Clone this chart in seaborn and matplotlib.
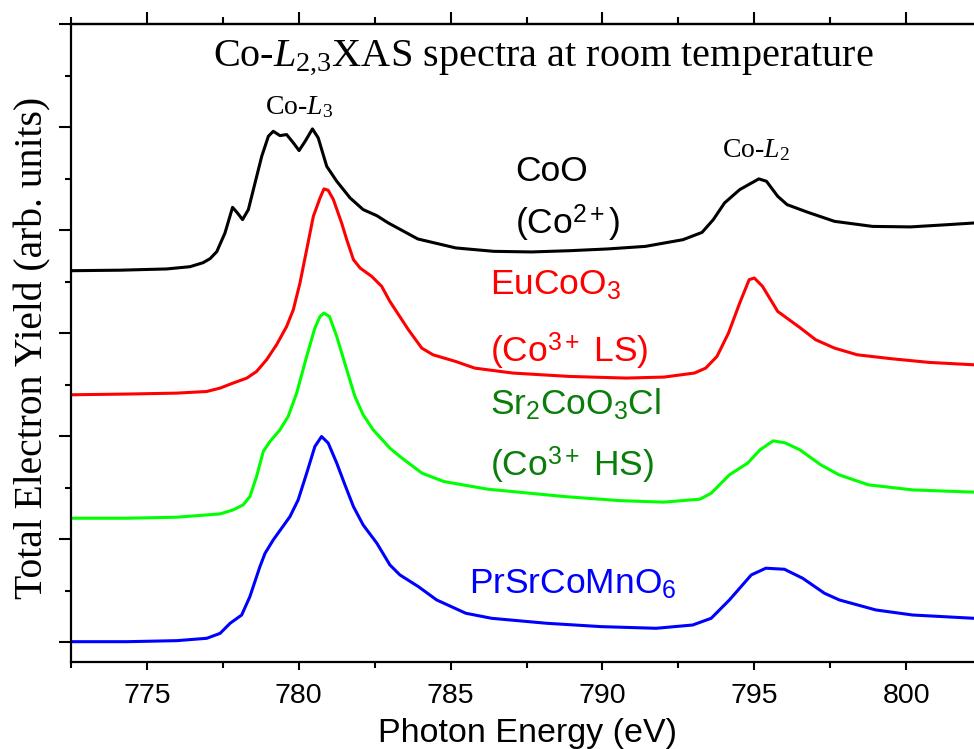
import matplotlib
matplotlib.use("Agg")
import matplotlib.pyplot as plt
from matplotlib.ticker import MultipleLocator, NullFormatter
import seaborn as sns
import pandas as pd

# ---------------- data ----------------
coo_energy = [772.50, 774.11, 775.65, 776.42, 776.85, 777.08, 777.30, 777.57, 777.82, 777.97,
              778.15, 778.34, 778.56, 778.78, 779.00, 779.16, 779.38, 779.60, 779.82, 780.01,
              780.21, 780.45, 780.64, 780.92, 781.25, 781.69, 782.12, 782.57, 782.95, 783.92,
              785.17, 786.42, 787.66, 788.91, 790.16, 791.41, 792.65, 793.28, 793.65, 794.02,
              794.52, 795.15, 795.40, 795.77, 796.08, 796.77, 797.64, 798.89, 800.14, 801.38,
              802.23]
coo_intensity = [3.606, 3.611, 3.623, 3.645, 3.684, 3.723, 3.791, 3.972, 4.221, 4.170,
                 4.102, 4.199, 4.458, 4.716, 4.911, 4.959, 4.917, 4.927, 4.847, 4.772,
                 4.862, 4.982, 4.895, 4.619, 4.474, 4.312, 4.199, 4.140, 4.069, 3.914,
                 3.827, 3.794, 3.788, 3.800, 3.817, 3.842, 3.907, 3.978, 4.102, 4.264,
                 4.393, 4.497, 4.474, 4.328, 4.247, 4.172, 4.085, 4.036, 4.031, 4.053,
                 4.069]

eucoo3_energy = [772.52, 774.33, 775.98, 776.97, 777.41, 777.84, 778.29, 778.61, 778.94, 779.27,
                 779.60, 779.82, 780.04, 780.26, 780.48, 780.70, 780.83, 780.97, 781.14, 781.41,
                 781.58, 781.80, 782.02, 782.40, 782.73, 783.00, 783.18, 783.61, 784.05, 784.42,
                 785.17, 785.79, 787.04, 788.91, 790.78, 792.03, 793.03, 793.40, 793.77, 794.15,
                 794.52, 794.83, 795.00, 795.27, 795.77, 796.52, 797.02, 797.64, 798.39, 799.51,
                 800.76, 802.23]
eucoo3_intensity = [2.402, 2.409, 2.418, 2.434, 2.467, 2.516, 2.564, 2.628, 2.742, 2.888,
                    3.065, 3.227, 3.487, 3.810, 4.134, 4.312, 4.400, 4.386, 4.296, 4.070,
                    3.907, 3.713, 3.632, 3.551, 3.454, 3.308, 3.227, 3.033, 2.855, 2.790,
                    2.725, 2.661, 2.613, 2.580, 2.564, 2.574, 2.613, 2.661, 2.774, 3.001,
                    3.293, 3.519, 3.535, 3.454, 3.211, 3.050, 2.936, 2.855, 2.790, 2.752,
                    2.716, 2.693]

sr2_energy = [772.52, 774.33, 775.98, 777.41, 777.84, 778.17, 778.39, 778.61, 778.83, 779.05,
              779.38, 779.65, 779.93, 780.26, 780.53, 780.70, 780.83, 781.01, 781.25, 781.58,
              781.85, 782.12, 782.45, 783.00, 783.33, 784.06, 784.78, 786.22, 788.76, 790.56,
              792.01, 793.21, 793.58, 794.18, 794.78, 795.19, 795.62, 796.01, 796.50, 797.19,
              797.79, 798.76, 800.21, 802.23]
sr2_intensity = [1.204, 1.204, 1.214, 1.246, 1.285, 1.334, 1.414, 1.608, 1.851, 1.948,
                 2.062, 2.191, 2.418, 2.774, 3.050, 3.162, 3.195, 3.162, 2.968, 2.645,
                 2.385, 2.208, 2.062, 1.884, 1.803, 1.641, 1.560, 1.486, 1.414, 1.375,
                 1.360, 1.389, 1.447, 1.625, 1.739, 1.868, 1.955, 1.936, 1.868, 1.722,
                 1.625, 1.528, 1.479, 1.457]

prsr_energy = [772.52, 774.33, 775.98, 776.97, 777.41, 777.74, 778.12, 778.39, 778.72, 778.89,
               779.16, 779.71, 779.98, 780.26, 780.53, 780.75, 780.97, 781.25, 781.52, 781.80,
               782.12, 782.57, 783.00, 783.33, 783.94, 784.54, 785.50, 786.35, 788.15, 789.96,
               791.77, 792.97, 793.58, 794.18, 794.90, 795.38, 795.99, 796.59, 797.31, 797.80,
               799.00, 800.21, 802.23]
prsr_intensity = [0.006, 0.006, 0.016, 0.039, 0.087, 0.185, 0.265, 0.443, 0.734, 0.864,
                  0.994, 1.220, 1.382, 1.641, 1.900, 1.997, 1.933, 1.739, 1.528, 1.317,
                  1.139, 0.962, 0.751, 0.654, 0.540, 0.411, 0.282, 0.233, 0.185, 0.152,
                  0.136, 0.168, 0.233, 0.411, 0.654, 0.719, 0.709, 0.622, 0.476, 0.411,
                  0.314, 0.265, 0.233]

samples = ["CoO", "EuCoO3", "Sr2CoO3Cl", "PrSrCoMnO6"]
colors = ["#000000", "#ff0000", "#00ff00", "#0000ff"]
label_colors = ["#000000", "#ff0000", "#0a7d0a", "#0000ff"]

x_major_ticks = [775, 780, 785, 790, 795, 800]
x_tick_labels = ["775", "780", "785", "790", "795", "800"]

# ---------------- style ----------------
sns.set_style("ticks")
plt.rcParams["font.family"] = ["Liberation Sans", "DejaVu Sans"]
plt.rcParams["text.color"] = "black"
plt.rcParams["axes.labelcolor"] = "black"
plt.rcParams["xtick.color"] = "black"
plt.rcParams["ytick.color"] = "black"
plt.rcParams["axes.edgecolor"] = "black"
plt.rcParams["mathtext.fontset"] = "custom"
plt.rcParams["mathtext.rm"] = "Liberation Sans"
plt.rcParams["mathtext.it"] = "Liberation Serif:italic"
plt.rcParams["mathtext.bf"] = "Liberation Serif"
plt.rcParams["mathtext.sf"] = "Liberation Sans"

frames = []
for name, e, i in [("CoO", coo_energy, coo_intensity),
                   ("EuCoO3", eucoo3_energy, eucoo3_intensity),
                   ("Sr2CoO3Cl", sr2_energy, sr2_intensity),
                   ("PrSrCoMnO6", prsr_energy, prsr_intensity)]:
    frames.append(pd.DataFrame({"energy": e, "intensity": i, "sample": name}))
df = pd.concat(frames, ignore_index=True)

fig = plt.figure(figsize=(9.74, 7.49), dpi=100)
ax = fig.add_axes([71 / 974, (749 - 662.3) / 749, 912 / 974, 638.3 / 749])

sns.lineplot(data=df, x="energy", y="intensity", hue="sample", hue_order=samples,
             palette=colors, estimator=None, sort=False, linewidth=2.2,
             legend=False, ax=ax)
for ln in ax.lines:
    ln.set_solid_joinstyle("round")
    ln.set_solid_capstyle("round")

ax.set_xlim(772.5, 802.53)
ax.set_ylim(-0.194, 6.0)

ax.set_xticks(x_major_ticks)
ax.set_xticklabels(x_tick_labels)
ax.xaxis.set_minor_locator(MultipleLocator(2.5))
ax.yaxis.set_major_locator(MultipleLocator(1))
ax.yaxis.set_minor_locator(MultipleLocator(0.5))
ax.yaxis.set_major_formatter(NullFormatter())

for s in ax.spines.values():
    s.set_linewidth(1.6)
    s.set_color("black")

ax.tick_params(axis="x", which="major", direction="out", length=5.8, width=1.5,
               labelsize=20.5, pad=9, top=False, bottom=True, colors="black")
ax.tick_params(axis="x", which="minor", direction="out", length=4.3, width=1.5,
               top=False, bottom=True, colors="black")
ax.tick_params(axis="y", which="major", direction="out", length=8.5, width=1.5,
               left=True, right=False, colors="black")
ax.tick_params(axis="y", which="minor", direction="out", length=4.3, width=1.5,
               left=True, right=False, colors="black")

sec = ax.secondary_xaxis("top")
sec.set_xticks(x_major_ticks)
sec.xaxis.set_minor_locator(MultipleLocator(2.5))
sec.tick_params(axis="x", which="major", direction="out", length=8.8, width=1.5,
                labeltop=False, colors="black")
sec.tick_params(axis="x", which="minor", direction="out", length=5.2, width=1.5,
                colors="black")
sec.spines["top"].set_linewidth(1.6)
sec.spines["top"].set_color("black")

ax.set_xlabel("Photon Energy (eV)", fontsize=24.5, family="Liberation Sans", color="black")
ax.xaxis.set_label_coords(0.5, -0.087)
ax.set_ylabel("Total Electron Yield (arb. units)", fontsize=28.5,
              family="Liberation Serif", color="black")
ax.yaxis.set_label_coords(-0.0212, 0.493)

serif = "Liberation Serif"
ax.text(777.18, 5.597, r"Co-$L_{\mathbf{2{,}3}}$XAS spectra at room temperature",
        fontsize=29, family=serif, ha="left", va="baseline", color="black")
ax.text(778.89, 5.121, r"Co-$L_{\mathbf{3}}$", fontsize=20, family=serif,
        ha="left", va="baseline", color="black")
ax.text(793.93, 4.704, r"Co-$L_{\mathbf{2}}$", fontsize=20, family=serif,
        ha="left", va="baseline", color="black")

fs = 25.5
ax.text(787.12, 4.474, "CoO", color=label_colors[0], fontsize=fs, ha="left", va="baseline")
ax.text(787.12, 3.956, r"(Co$^{2+}$)", color=label_colors[0], fontsize=fs, ha="left", va="baseline")
ax.text(786.29, 3.375, r"EuCoO$_3$", color=label_colors[1], fontsize=fs, ha="left", va="baseline")
ax.text(786.29, 2.710, r"(Co$^{3+}$ LS)", color=label_colors[1], fontsize=fs, ha="left", va="baseline")
ax.text(786.30, 2.208, r"Sr$_2$CoO$_3$Cl", color=label_colors[2], fontsize=fs, ha="left", va="baseline")
ax.text(786.30, 1.608, r"(Co$^{3+}$ HS)", color=label_colors[2], fontsize=fs, ha="left", va="baseline")
ax.text(785.62, 0.469, r"PrSrCoMnO$_6$", color=label_colors[3], fontsize=fs, ha="left", va="baseline")

fig.savefig("out.png", dpi=100)
